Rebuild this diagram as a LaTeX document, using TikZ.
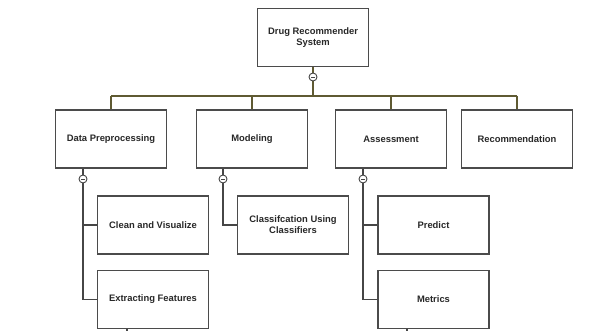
\documentclass[tikz,border=0pt]{standalone}
\usepackage{fontspec}
\setmainfont{Liberation Sans}
\begin{document}
\begin{tikzpicture}[x=1pt,y=-1pt,
  box/.style={draw=boxc, line width=1.2pt, fill=white, minimum width=111pt, minimum height=58pt, inner sep=2pt, align=center, font=\fontsize{9.4}{11}\selectfont\bfseries, text=txtc},
  conn/.style={draw=linec, line width=1.2pt},
  bus/.style={draw=busc, line width=1.2pt},
  tog/.style={circle, draw=linec, line width=0.9pt, fill=white, minimum size=8pt, inner sep=0pt}]
\definecolor{boxc}{RGB}{75,75,75}
\definecolor{linec}{RGB}{70,70,70}
\definecolor{busc}{RGB}{95,90,50}
\definecolor{txtc}{RGB}{40,40,40}
\useasboundingbox (0,0) rectangle (593,331);
\fill[white] (0,0) rectangle (593,331);
% nodes
\node[box] (root) at (313,37.5) {Drug Recommender\\System};
\node[box] (dp) at (111,139) {Data Preprocessing};
\node[box] (mod) at (252,139) {Modeling};
\node[box] (ass) at (391,139) {Assessment};
\node[box] (rec) at (517,139) {Recommendation};
\node[box] (clean) at (153,225) {Clean and Visualize};
\node[box] (extr) at (153,299.5) {Extracting Features};
\node[box] (cls) at (293,225) {Classifcation Using\\Classifiers};
\node[box] (pred) at (433.5,225) {Predict};
\node[box] (met) at (433.5,299.5) {Metrics};
% toggles
\coordinate (rt) at (313,77);
\coordinate (busL) at (111,96);
\coordinate (busR) at (517,96);
\coordinate (busM) at (313,96);
\coordinate (t1) at (83,179);
\coordinate (t2) at (223,179);
\coordinate (t3) at (363,179);
% bus
\draw[bus] (root.south) -- (busM);
\draw[bus] (busL) -- (busR);
\draw[bus] (busL) -- (dp.north);
\draw[bus] (busM -| mod.north) -- (mod.north);
\draw[bus] (busM -| ass.north) -- (ass.north);
\draw[bus] (busR) -- (rec.north);
% children
\draw[conn] (dp.south -| t1) -- (t1 |- extr.west) -- (extr.west);
\draw[conn] (t1 |- clean.west) -- (clean.west);
\draw[conn] (mod.south -| t2) -- (t2 |- cls.west) -- (cls.west);
\draw[conn] (ass.south -| t3) -- (t3 |- met.west) -- (met.west);
\draw[conn] (t3 |- pred.west) -- (pred.west);
% stubs
\coordinate (s1) at (127,331);
\coordinate (s2) at (407,331);
\draw[conn] (extr.south -| s1) -- (s1);
\draw[conn] (met.south -| s2) -- (s2);
% toggle circles
\foreach \c in {rt,t1,t2,t3}{
  \node[tog] (n\c) at (\c) {};
  \draw[linec, line width=0.8pt] ([xshift=-2pt]\c) -- ([xshift=2pt]\c);
}
\end{tikzpicture}
\end{document}
